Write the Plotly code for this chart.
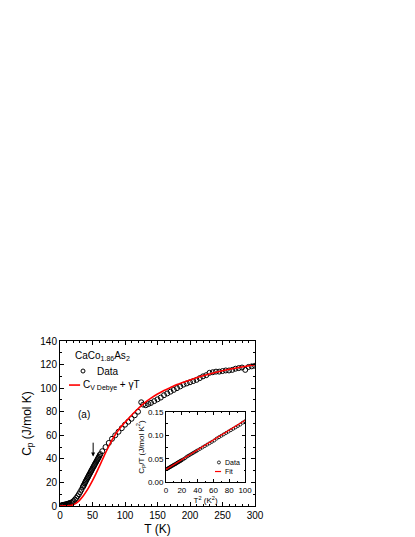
import plotly.graph_objects as go

# main panel: Cp vs T
t_data = [2, 3, 4, 5, 6, 7, 8, 9, 10, 11, 12, 13, 14, 15, 17, 19, 21, 23, 25, 27, 29, 31, 33, 35,
          36, 37, 38, 39, 40, 41, 42, 43, 44, 45, 46, 47, 48, 49, 50, 51, 52, 53, 54, 55, 56, 57,
          58, 59, 60, 61, 62, 65, 70, 75, 80, 85, 90, 95, 100, 105, 110, 115, 120, 125, 128, 132,
          136, 140, 145, 150, 155, 160, 165, 170, 175, 180, 185, 190, 195, 200, 205, 210, 215, 220,
          225, 230, 235, 240, 245, 250, 255, 260, 265, 270, 275, 280, 285, 290, 295, 300]
cp_data = [0.4, 0.6, 0.8, 0.9, 1.0, 1.1, 1.2, 1.3, 1.4, 1.6, 1.8, 2.0, 2.2, 2.4, 2.8, 3.4, 4.3, 5.5,
           6.8, 8.3, 10.0, 11.8, 13.8, 16.0, 17.0, 18.0, 19.2, 20.3, 21.4, 22.5, 23.5, 24.5, 25.6,
           26.6, 27.6, 28.7, 29.7, 30.7, 31.8, 32.8, 33.8, 34.8, 35.8, 36.8, 37.8, 38.8, 39.8, 40.8,
           41.8, 43.0, 44.0, 46.5, 50.0, 53.5, 57.0, 60.0, 63.0, 66.0, 69.0, 71.5, 74.0, 77.0, 80.0,
           88.0, 86.0, 85.5, 86.5, 87.5, 89.0, 90.5, 92.0, 94.0, 95.5, 97.0, 98.5, 100.0, 101.5,
           103.0, 104.0, 105.0, 106.0, 107.0, 108.5, 110.0, 111.0, 113.0, 113.5, 114.0, 114.0, 114.5,
           115.0, 115.0, 115.5, 116.5, 117.0, 117.5, 115.5, 118.0, 118.5, 119.0]

t_fit = [0, 10, 15, 20, 25, 30, 35, 40, 45, 50, 55, 60, 65, 70, 75, 80, 85, 90, 95, 100, 110, 120,
         130, 140, 150, 160, 170, 180, 190, 200, 220, 240, 260, 280, 300]
cp_fit = [0.0, 0.1, 0.3, 1.0, 2.5, 4.8, 8.0, 12.0, 16.5, 21.5, 27.0, 33.0, 39.0, 45.0, 50.5, 56.0,
          60.5, 64.5, 68.0, 71.0, 77.0, 82.5, 87.5, 91.5, 95.0, 98.0, 100.5, 103.0, 105.0, 107.0,
          110.5, 113.5, 116.0, 118.0, 120.0]

# inset: Cp/T vs T^2
t2_data = [1, 2, 3, 4, 5, 6, 7, 8, 9, 10, 11, 12, 13, 14, 15, 16, 17, 18, 19, 20, 22, 24, 26, 28, 30,
           32, 34, 36, 38, 40, 43, 46, 49, 52, 55, 58, 61, 64, 67, 70, 73, 76, 79, 82, 85, 88, 91, 94,
           97, 100]
cpt_data = [0.028, 0.029, 0.030, 0.031, 0.032, 0.033, 0.034, 0.035, 0.036, 0.037, 0.038, 0.0385,
            0.040, 0.041, 0.042, 0.043, 0.044, 0.045, 0.046, 0.047, 0.049, 0.051, 0.054, 0.056, 0.058,
            0.060, 0.062, 0.064, 0.066, 0.068, 0.071, 0.074, 0.077, 0.080, 0.083, 0.086, 0.089, 0.093,
            0.096, 0.099, 0.102, 0.105, 0.108, 0.111, 0.114, 0.117, 0.120, 0.123, 0.127, 0.130]
t2_fit = [0, 100]
cpt_fit = [0.027, 0.132]

FONT = "Liberation Sans, Arial, sans-serif"

fig = go.Figure()

fig.add_trace(go.Scatter(
    x=t_data, y=cp_data, mode="markers", showlegend=False,
    marker=dict(symbol="circle-open", size=5, color="black", line=dict(width=1))
))
fig.add_trace(go.Scatter(
    x=t_fit, y=cp_fit, mode="lines", showlegend=False,
    line=dict(color="red", width=1.6, shape="spline")
))
fig.add_trace(go.Scatter(
    x=t2_data, y=cpt_data, mode="markers", showlegend=False, xaxis="x2", yaxis="y2",
    marker=dict(symbol="circle-open", size=3, color="black", line=dict(width=0.8))
))
fig.add_trace(go.Scatter(
    x=t2_fit, y=cpt_fit, mode="lines", showlegend=False, xaxis="x2", yaxis="y2",
    line=dict(color="red", width=1.2)
))

axis_style = dict(showline=True, linecolor="black", linewidth=1, mirror="ticks",
                  ticks="inside", tickcolor="black", showgrid=False, zeroline=False)

fig.update_layout(
    width=415, height=537,
    margin=dict(l=52, r=168, t=333, b=39),
    paper_bgcolor="white", plot_bgcolor="white",
    font=dict(family=FONT, color="black", size=10),
    xaxis=dict(range=[0, 300], dtick=50, ticklen=4,
               minor=dict(dtick=10, ticklen=2, ticks="inside", tickcolor="black"),
               title=dict(text="T (K)", font=dict(size=12), standoff=4),
               tickfont=dict(size=10), **axis_style),
    yaxis=dict(range=[0, 140], dtick=20, ticklen=4,
               minor=dict(dtick=10, ticklen=2, ticks="inside", tickcolor="black"),
               title=dict(text="C<sub>p</sub> (J/mol K)", font=dict(size=12), standoff=6),
               tickfont=dict(size=10), **axis_style),
    xaxis2=dict(domain=[0.544, 0.949], anchor="y2", range=[0, 100], dtick=20, ticklen=3,
                minor=dict(dtick=10, ticklen=1.5, ticks="inside", tickcolor="black"),
                title=dict(text="T<sup>2</sup> (K<sup>2</sup>)", font=dict(size=8), standoff=1),
                tickfont=dict(size=8), **axis_style),
    yaxis2=dict(domain=[0.145, 0.570], anchor="x2", range=[0, 0.15], dtick=0.05,
                tickformat=".2f", ticklen=3,
                minor=dict(dtick=0.025, ticklen=1.5, ticks="inside", tickcolor="black"),
                title=dict(text="C<sub>p</sub>/T (J/mol K<sup>2</sup>)", font=dict(size=8), standoff=2),
                tickfont=dict(size=8), **axis_style),
)

# hand-made legends (compact rows like the original)
fig.add_shape(type="circle", xref="paper", yref="paper", xsizemode="pixel", ysizemode="pixel",
              xanchor=0.118, yanchor=0.818, x0=-2, x1=2, y0=-2, y1=2,
              line=dict(color="black", width=1))
fig.add_shape(type="line", xref="paper", yref="paper", x0=0.046, x1=0.103, y0=0.733, y1=0.733,
              line=dict(color="red", width=1.6))
fig.add_shape(type="circle", xref="paper", yref="paper", xsizemode="pixel", ysizemode="pixel",
              xanchor=0.815, yanchor=0.264, x0=-1.5, x1=1.5, y0=-1.5, y1=1.5,
              line=dict(color="black", width=0.8))
fig.add_shape(type="line", xref="paper", yref="paper", x0=0.795, x1=0.826, y0=0.209, y1=0.209,
              line=dict(color="red", width=1.2))

notes = [
    ("CaCo<sub>1.86</sub>As<sub>2</sub>", 0.067, 0.909, 10),
    ("Data", 0.179, 0.818, 10),
    ("C<sub>V Debye</sub> + γT", 0.108, 0.733, 10),
    ("Data", 0.836, 0.264, 7),
    ("Fit", 0.836, 0.209, 7),
]
for text, x, y, size in notes:
    fig.add_annotation(text=text, x=x, y=y, xref="paper", yref="paper", xanchor="left",
                       yanchor="middle", showarrow=False, font=dict(size=size))

fig.add_annotation(text="(a)", x=37, y=78, xref="x", yref="y", showarrow=False,
                   font=dict(size=10))
fig.add_annotation(text="", x=51, y=42, ax=51, ay=55, xref="x", yref="y", axref="x", ayref="y",
                   showarrow=True, arrowhead=2, arrowsize=0.8, arrowwidth=1, arrowcolor="black")

fig.write_html("out.html")
